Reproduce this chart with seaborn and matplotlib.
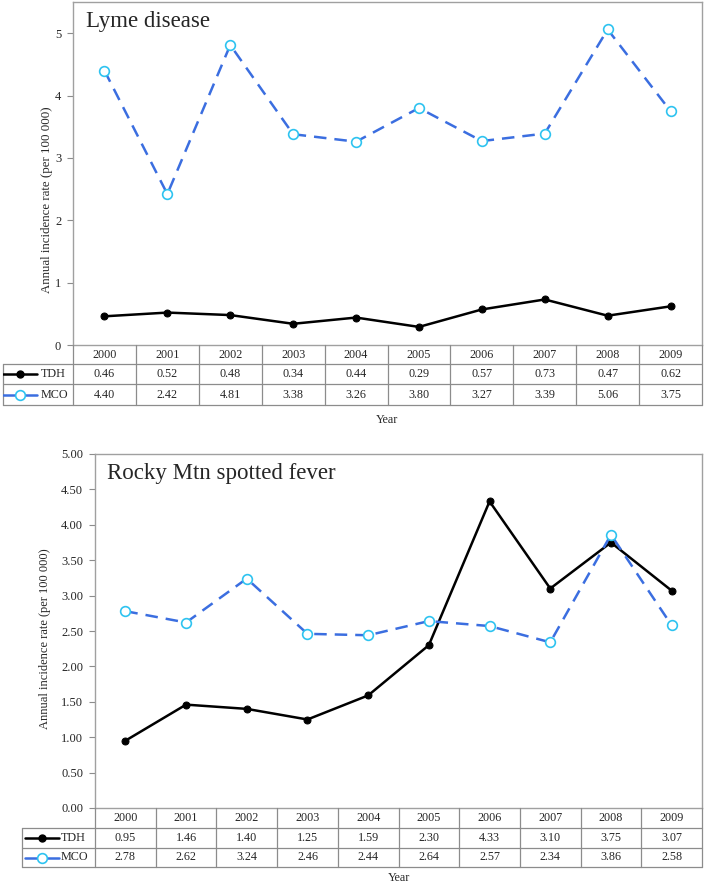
import numpy as np
import pandas as pd
import matplotlib
matplotlib.use("Agg")
import matplotlib.pyplot as plt
import seaborn as sns

years = [2000, 2001, 2002, 2003, 2004, 2005, 2006, 2007, 2008, 2009]
lyme_tdh = [0.46, 0.52, 0.48, 0.34, 0.44, 0.29, 0.57, 0.73, 0.47, 0.62]
lyme_mco = [4.40, 2.42, 4.81, 3.38, 3.26, 3.80, 3.27, 3.39, 5.06, 3.75]
rmsf_tdh = [0.95, 1.46, 1.40, 1.25, 1.59, 2.30, 4.33, 3.10, 3.75, 3.07]
rmsf_mco = [2.78, 2.62, 3.24, 2.46, 2.44, 2.64, 2.57, 2.34, 3.86, 2.58]
series_names = ["TDH", "MCO"]
titles = ["Lyme disease", "Rocky Mtn spotted fever"]
ylabel = "Annual incidence rate (per 100 000)"

sns.set_style("white")
plt.rcParams["font.family"] = ["Liberation Serif", "DejaVu Serif"]

W, H = 705, 883
fig = plt.figure(figsize=(W / 100, H / 100), dpi=100)

GRID = "#8c8c8c"
BLUE = "#3b6ee0"
CYAN = "#2ec3f0"


def fx(x):
    return x / W


def fy(y):
    return 1 - y / H


def panel(title, tdh, mco, ylim, yticks, yfmt, lab_left, left, right, top, zero,
          rows, year_y, ylab_x, ylab_y, ylab_fs, leg_x0, leg_x1, txt_x):
    ax = fig.add_axes([fx(left), fy(zero), (right - left) / W, (zero - top) / H])
    df = pd.DataFrame({"Year": years, "TDH": tdh, "MCO": mco})
    sns.lineplot(data=df, x="Year", y="TDH", ax=ax, color="black", lw=1.8,
                 marker="o", markersize=5, markeredgecolor="black")
    sns.lineplot(data=df, x="Year", y="MCO", ax=ax, color=BLUE, lw=1.8,
                 linestyle=(0, (5, 3.2)), marker="o", markersize=7,
                 markerfacecolor="white", markeredgecolor=CYAN, markeredgewidth=1.2)
    ax.set_xlim(years[0] - 0.5, years[-1] + 0.5)
    ax.set_ylim(*ylim)
    ax.set_yticks(yticks)
    ax.set_yticklabels([yfmt.format(v) for v in yticks], fontsize=9)
    ax.set_xticks([])
    ax.set_xlabel("")
    ax.set_ylabel("")
    ax.tick_params(axis="y", direction="out", length=4.5, width=0.8, color=GRID,
                   pad=4, left=True)
    for s in ax.spines.values():
        s.set_color("#a0a0a0")
        s.set_linewidth(1.0)
    ax.text(0.02, 0.975, title, transform=ax.transAxes, fontsize=16.5,
            va="top", ha="left")
    fig.text(fx(ylab_x), fy(ylab_y), ylabel, rotation=90, ha="center", va="center",
             fontsize=ylab_fs)

    # table
    hb, tb, mb = rows
    tab = fig.add_axes([fx(lab_left), fy(mb), (right - lab_left) / W, (mb - zero) / H])
    tab.set_xlim(0, right - lab_left)
    tab.set_ylim(mb - zero, 0)
    tab.axis("off")
    x0 = left - lab_left
    colw = (right - left) / len(years)
    th = tb - zero
    hh = hb - zero
    mh = mb - zero
    lw = 0.9
    for yy in (hh, th, mh):
        tab.plot([0, right - lab_left], [yy, yy], color=GRID, lw=lw, clip_on=False)
    tab.plot([0, 0], [hh, mh], color=GRID, lw=lw, clip_on=False)
    for i in range(len(years) + 1):
        xx = x0 + i * colw
        tab.plot([xx, xx], [0, mh], color=GRID, lw=lw, clip_on=False)
    for i, yr in enumerate(years):
        cx = x0 + (i + 0.5) * colw
        tab.text(cx, hh / 2, str(yr), ha="center", va="center", fontsize=8.7)
        tab.text(cx, (hh + th) / 2, f"{tdh[i]:.2f}", ha="center", va="center", fontsize=8.7)
        tab.text(cx, (th + mh) / 2, f"{mco[i]:.2f}", ha="center", va="center", fontsize=8.7)
    # row labels with legend keys
    ly = (hh + th) / 2
    tab.plot([leg_x0 - lab_left, leg_x1 - lab_left], [ly, ly], color="black", lw=1.8)
    tab.plot([(leg_x0 + leg_x1) / 2 - lab_left], [ly], "o", color="black", markersize=5)
    tab.text(txt_x - lab_left, ly, series_names[0], ha="left", va="center", fontsize=8.7)
    my = (th + mh) / 2
    tab.plot([leg_x0 - lab_left, leg_x1 - lab_left], [my, my], color=BLUE, lw=1.8)
    tab.plot([(leg_x0 + leg_x1) / 2 - lab_left], [my], "o", markerfacecolor="white",
             markeredgecolor=CYAN, markersize=7, markeredgewidth=1.2)
    tab.text(txt_x - lab_left, my, series_names[1], ha="left", va="center", fontsize=8.7)

    fig.text(fx((left + right) / 2), fy(year_y), "Year", ha="center", va="center",
             fontsize=8.7)


panel(titles[0], lyme_tdh, lyme_mco, (0, 5.5), [0, 1, 2, 3, 4, 5], "{:.0f}",
      lab_left=3, left=73, right=702, top=2, zero=345, rows=(364, 384, 405),
      year_y=420, ylab_x=47, ylab_y=200, ylab_fs=9.3,
      leg_x0=3, leg_x1=37, txt_x=41)
panel(titles[1], rmsf_tdh, rmsf_mco, (0, 5.0), list(np.arange(0, 5.01, 0.5)), "{:.2f}",
      lab_left=22, left=95, right=702, top=454, zero=808, rows=(828, 848, 867),
      year_y=878, ylab_x=45, ylab_y=639, ylab_fs=9.0,
      leg_x0=25, leg_x1=59, txt_x=61)

fig.savefig("out.png", dpi=100)
